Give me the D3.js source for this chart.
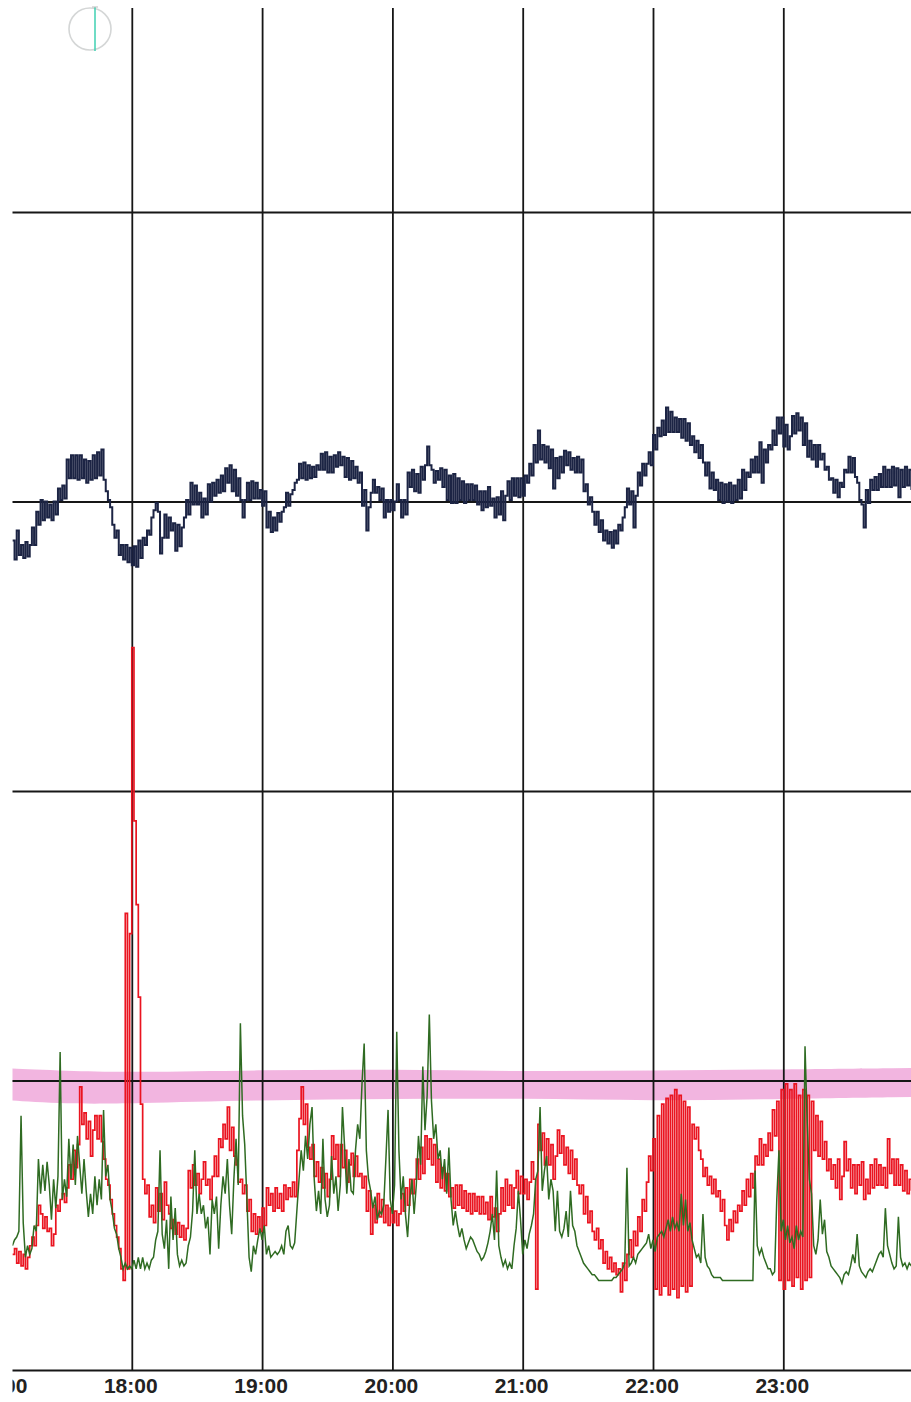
<!DOCTYPE html>
<html><head><meta charset="utf-8">
<script src="https://cdn.jsdelivr.net/npm/d3@7/dist/d3.min.js"></script>
<style>html,body{margin:0;padding:0;background:#fff;}svg{display:block;}</style>
</head><body>
<svg id="chart" width="911" height="1402"></svg>
<script>
// ---- DATA ----
const startMinute = 5;          // first sample: 17:05
const sampleStep = 1;           // minutes between samples
const tickHours = [17, 18, 19, 20, 21, 22, 23];
const gridValues = [100, 120, 140, 160];
const bandHours = [17, 17.5, 18, 19, 20, 21, 22, 23, 24];
const bandTop =    [104.5, 103.5, 103.0, 103.8, 104.0, 103.3, 103.6, 104.0, 104.5];
const bandBottom = [93.5, 92.0, 92.2, 93.4, 93.8, 94.0, 93.1, 93.8, 94.5];

const navySeries = [
137.3,136.0,138.0,136.3,137.0,136.1,137.2,136.2,137.0,138.2,
137.0,139.3,138.4,140.1,138.7,140.0,138.9,139.8,138.7,140.0,
139.1,140.9,140.1,141.1,140.2,142.9,141.6,143.2,141.6,143.2,
141.5,143.2,141.6,142.9,141.3,142.8,141.5,143.2,141.6,143.4,
141.8,143.6,141.5,140.7,140.1,139.6,138.4,137.5,138.0,136.3,
137.0,136.0,137.0,135.8,136.8,135.6,136.9,135.5,137.3,136.1,
137.5,137.0,138.0,137.7,138.9,139.4,139.9,139.3,136.4,137.5,
139.1,137.5,138.9,138.0,138.5,136.6,138.4,136.9,138.2,138.9,
140.1,139.1,141.3,139.8,141.1,139.8,140.6,138.9,140.2,139.1,
141.2,140.0,141.3,140.4,141.5,140.6,141.8,140.7,142.3,141.3,
142.5,140.7,142.2,140.4,141.6,140.1,138.9,140.1,141.3,140.1,
141.4,140.2,141.3,140.2,140.8,139.7,140.7,138.2,139.3,137.9,
138.9,138.0,139.2,138.6,139.3,139.6,140.6,139.7,140.5,140.8,
141.3,141.5,142.6,141.6,142.7,141.5,142.5,141.6,142.4,141.7,
142.5,142.2,143.3,142.2,143.4,142.0,143.1,142.0,143.2,142.4,
143.4,142.5,143.1,141.7,143.0,141.5,142.8,141.6,142.4,141.3,
142.0,139.7,140.8,138.0,139.6,140.6,141.5,140.6,141.0,140.1,
140.9,138.9,140.1,139.3,140.1,139.4,140.0,141.2,140.1,138.9,
140.1,139.1,142.0,141.0,142.2,140.7,141.9,140.6,142.4,141.5,
142.5,143.8,142.5,142.2,141.3,142.1,141.5,142.3,141.0,142.2,
140.1,141.8,139.9,141.9,139.9,141.6,140.1,141.4,139.9,141.2,
140.1,141.2,140.1,141.1,139.8,140.7,139.4,140.7,139.6,141.0,
139.7,140.2,138.9,140.3,139.1,140.7,138.7,140.4,141.4,140.1,
141.6,140.4,141.6,140.3,141.6,140.4,141.8,141.3,142.6,141.8,
143.9,142.7,144.9,142.9,143.9,142.7,143.8,142.3,143.6,140.9,
143.0,141.6,143.1,142.0,143.5,142.5,143.4,142.2,143.0,142.0,
143.1,142.0,142.9,140.7,141.2,139.8,140.3,139.3,138.4,139.3,
137.9,138.7,137.3,138.0,137.1,137.9,136.8,138.0,137.1,138.4,
138.0,138.9,139.6,140.9,139.8,140.7,138.2,140.4,142.0,141.1,
142.6,141.8,142.6,143.4,142.5,144.6,143.6,145.1,144.5,145.6,
144.6,146.5,144.8,146.2,144.8,145.8,144.8,145.7,144.4,145.7,
144.2,145.4,143.9,144.5,143.4,144.2,143.0,143.9,142.7,141.8,
142.7,140.9,142.0,140.8,141.5,140.1,141.3,139.9,141.2,140.0,
141.3,139.9,141.1,140.1,141.5,140.2,142.2,140.8,142.0,141.7,
142.9,142.0,143.1,142.0,144.1,141.3,143.6,142.7,143.9,143.6,
144.9,143.9,145.8,144.7,145.8,143.8,145.3,143.6,144.5,145.9,
144.7,146.1,144.9,145.8,143.9,145.4,143.1,144.2,142.9,143.9,
142.4,143.9,142.9,143.3,142.2,142.4,141.5,141.6,140.6,141.5,
140.3,141.3,141.0,142.2,142.0,143.1,142.0,143.0,141.7,141.3,
140.1,139.8,138.2,140.8,139.9,141.5,140.8,141.7,140.8,141.9,
141.0,142.4,141.0,142.2,141.0,142.4,141.1,142.3,140.3,142.2,
141.0,142.4,141.1,142.2,140.8
];

const redSeries = [
40,42,37,41,36,40,35,39,43,46,
43,50,57,54,49,53,48,49,43,47,
57,55,59,61,58,63,71,66,76,70,
78,98,85,89,80,86,74,83,88,80,
88,79,73,66,64,59,54,50,46,42,
35,31,158,35,151,250,190,161,129,92,
66,61,64,53,57,51,63,55,61,52,
65,57,54,49,52,47,51,46,50,45,
49,69,63,71,64,68,61,66,72,64,
66,59,67,74,67,80,77,85,80,91,
76,84,74,71,65,66,61,64,55,59,
48,54,47,53,48,56,50,63,57,61,
55,63,56,61,55,64,59,63,60,65,
60,76,87,98,85,92,77,73,78,67,
72,65,70,63,68,60,66,81,73,78,
67,78,70,76,65,71,75,67,74,67,
68,63,67,55,62,47,57,51,61,53,
59,51,57,50,56,51,55,50,54,61,
55,63,57,66,61,66,73,66,77,68,
81,73,80,71,78,65,73,63,70,62,
68,60,63,56,64,57,64,56,62,55,
61,54,61,55,60,54,60,54,58,52,
60,53,56,48,54,63,55,66,57,64,
56,63,69,61,67,61,66,59,65,72,
66,28,85,76,82,71,80,71,78,66,
74,83,75,81,71,77,68,76,66,73,
64,61,64,54,60,51,55,48,45,49,
42,45,37,41,35,39,34,37,33,35,
27,37,31,40,45,39,48,43,53,48,
59,55,65,74,69,80,28,88,26,92,
29,94,26,95,28,97,25,95,29,93,
27,91,29,85,80,84,76,73,67,70,
64,67,61,66,60,62,55,59,50,45,
52,48,55,51,57,55,62,57,66,60,
68,63,74,71,80,71,78,74,82,76,
90,81,93,31,97,28,99,31,97,29,
99,32,95,28,97,31,95,32,93,76,
88,74,86,73,79,69,73,66,71,63,
73,59,67,79,69,73,63,71,61,71,
64,72,59,66,61,71,63,73,64,71,
64,70,63,80,68,73,64,73,64,71,
62,69,61,66,62
];

const greenSeries = [
43,45,46,48,88,51,39,43,40,42,
50,48,73,61,71,62,72,64,52,66,
56,67,110,59,66,60,80,66,78,64,
81,71,61,73,62,53,61,54,67,57,
66,59,90,67,71,59,55,49,47,42,
39,35,37,35,36,35,38,35,39,35,
39,35,37,35,38,39,45,48,76,47,
42,52,35,60,45,56,40,36,38,36,
37,43,46,55,76,54,61,54,57,49,
53,40,59,54,60,42,57,67,61,73,
57,47,66,80,64,120,88,78,59,39,
34,43,40,45,49,45,50,40,43,39,
40,41,40,41,43,40,48,50,43,42,
44,55,66,76,69,81,73,85,91,66,
55,62,54,80,59,53,57,74,61,67,
55,64,91,77,61,73,62,61,76,85,
80,99,113,76,66,62,56,60,52,55,
54,57,73,90,59,54,64,117,76,59,
67,54,46,59,66,54,64,81,71,105,
83,95,123,93,80,85,73,76,66,73,
61,77,59,50,55,50,46,49,45,42,
44,46,45,43,41,40,38,39,41,44,
48,54,45,69,43,39,36,38,35,37,
35,43,49,62,52,40,45,42,47,50,
54,66,69,91,62,69,74,59,66,62,
48,62,48,46,49,55,46,62,50,48,
43,41,39,37,36,35,34,33,33,32,
31,31,31,31,31,31,31,32,32,33,
34,35,37,70,36,37,39,37,40,41,
42,43,44,47,42,45,41,46,47,48,
46,49,52,48,53,49,51,48,61,50,
59,48,51,45,42,39,40,37,54,39,
36,35,33,32,32,32,32,31,31,31,
31,31,31,31,31,31,31,31,31,31,
31,31,69,43,40,42,39,37,35,35,
33,34,59,76,48,52,45,50,44,46,
42,50,45,48,46,112,86,66,61,43,
40,45,59,47,52,41,39,36,35,34,
33,32,30,33,34,33,36,40,37,47,
36,34,33,32,34,35,34,36,38,40,
41,39,56,43,40,37,35,36,53,39,
36,37,35,37,36
];

// ---- CHART ----
const W = 911, H = 1402;
const base = new Date(2000, 0, 1, 17, 0);
const atMinute = m => new Date(base.getTime() + m * 60000);
const atHour = h => atMinute((h - 17) * 60);

const x = d3.scaleTime().domain([atHour(17), atHour(24)]).range([1.5, 913.6]);
const yNav = d3.scaleLinear().domain([80, 160]).range([1370, 212]);
const yLow = d3.scaleLinear().domain([0, 100]).range([1370, 1081]);

const svg = d3.select("#chart");
svg.append("rect").attr("width", W).attr("height", H).attr("fill", "#fff");
svg.append("defs").append("clipPath").attr("id", "clip")
  .append("rect").attr("x", 12.5).attr("y", 0).attr("width", W).attr("height", H);

const g = svg.append("g").attr("clip-path", "url(#clip)");

// pink highlighter band
const bandData = bandHours.map((h, i) => ({t: atHour(h), top: bandTop[i], bot: bandBottom[i]}));
g.append("path").datum(bandData)
  .attr("d", d3.area().x(d => x(d.t)).y0(d => yLow(d.bot)).y1(d => yLow(d.top)).curve(d3.curveBasis))
  .attr("fill", "#f0a8da").attr("opacity", 0.85);

// horizontal grid lines
const yGrid = g.append("g").attr("transform", "translate(12,0)")
  .call(d3.axisLeft(yNav).tickValues(gridValues).tickSize(-(W - 12)).tickFormat(""));
yGrid.select(".domain").remove();
yGrid.selectAll(".tick line").attr("stroke", "#161616").attr("stroke-width", 1.8);

// time axis with vertical grid lines
const xAxis = g.append("g").attr("transform", "translate(0,1370)")
  .call(d3.axisBottom(x).tickValues(tickHours.map(atHour)).tickFormat(d3.timeFormat("%H:%M"))
        .tickSize(-(1370 - 8)).tickSizeOuter(0).tickPadding(8));
xAxis.select(".domain").attr("stroke", "#161616").attr("stroke-width", 2);
xAxis.selectAll(".tick line").attr("stroke", "#161616").attr("stroke-width", 1.8);
xAxis.selectAll(".tick text")
  .attr("font-family", "'Liberation Sans', Arial, sans-serif")
  .attr("font-size", 21).attr("font-weight", "bold").attr("fill", "#222").attr("dx", -1.5);

// series
const navyData = navySeries.map((v, i) => ({t: atMinute(startMinute + i * sampleStep), v}));
const redData = redSeries.map((v, i) => ({t: atMinute(startMinute + i * sampleStep), v}));
const greenData = greenSeries.map((v, i) => ({t: atMinute(startMinute + i * sampleStep), v}));

g.append("path").datum(navyData)
  .attr("d", d3.line().x(d => x(d.t)).y(d => yNav(d.v)).curve(d3.curveStepAfter))
  .attr("fill", "none").attr("stroke", "#1c2444").attr("stroke-width", 2);

g.append("path").datum(redData)
  .attr("d", d3.line().x(d => x(d.t)).y(d => yLow(d.v)).curve(d3.curveStepAfter))
  .attr("fill", "none").attr("stroke", "#ea1420").attr("stroke-width", 1.7);

g.append("path").datum(greenData)
  .attr("d", d3.line().x(d => x(d.t)).y(d => yLow(d.v)))
  .attr("fill", "none").attr("stroke", "#2f6b22").attr("stroke-width", 1.5);

// faint marker at top left
const mark = svg.append("g");
mark.append("circle").attr("cx", 90).attr("cy", 29).attr("r", 21)
  .attr("fill", "none").attr("stroke", "#d4d6d6").attr("stroke-width", 1.6);
mark.append("line").attr("x1", 95).attr("x2", 95).attr("y1", 7).attr("y2", 51)
  .attr("stroke", "#3fd0b2").attr("stroke-width", 1.5);
mark.append("line").attr("x1", 92).attr("x2", 98).attr("y1", 7).attr("y2", 7)
  .attr("stroke", "#bbbbbb").attr("stroke-width", 1);
</script>
</body></html>
